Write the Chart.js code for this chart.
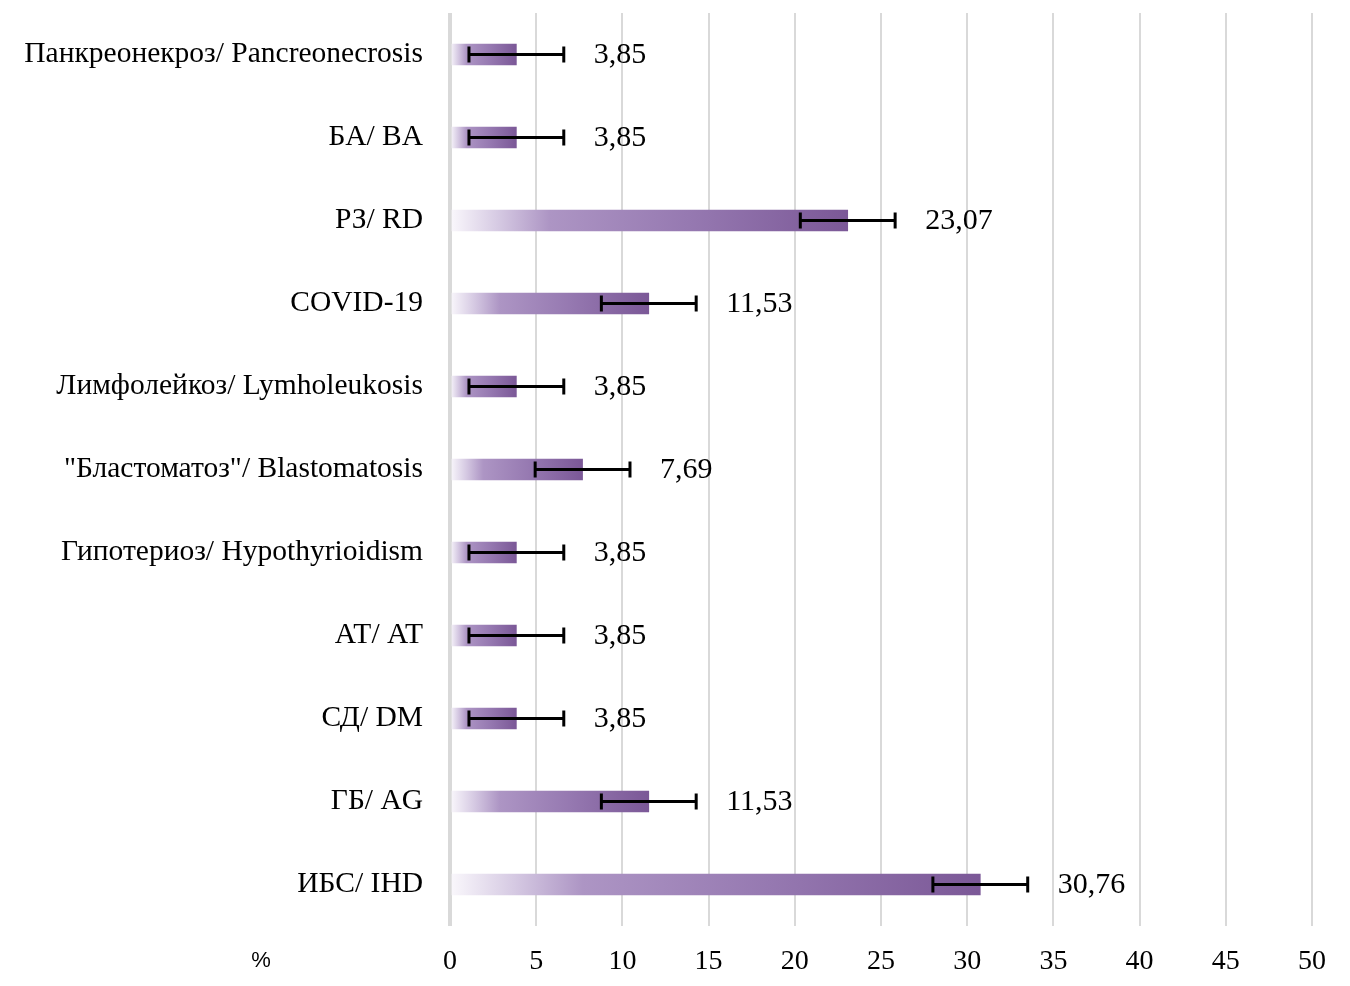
<!DOCTYPE html>
<html lang="ru">
<head>
    <meta charset="UTF-8">
    <title>Нозологии</title>
    <script src="https://cdn.jsdelivr.net/npm/chart.js"></script>
    <style>
        body {
            margin: 0;
            background: #fff;
        }
        #wrap {
            width: 1350px;
            height: 986px;
        }
    </style>
</head>
<body>
    <div id="wrap"><canvas id="nosChart"></canvas></div>

    <script>
        const categories = [
            'Панкреонекроз/ Pancreonecrosis',
            'БА/ BA',
            'РЗ/ RD',
            'COVID-19',
            'Лимфолейкоз/ Lymholeukosis',
            '"Бластоматоз"/ Blastomatosis',
            'Гипотериоз/ Hypothyrioidism',
            'АТ/ AT',
            'СД/ DM',
            'ГБ/ AG',
            'ИБС/ IHD'
        ];
        const values = [3.85, 3.85, 23.07, 11.53, 3.85, 7.69, 3.85, 3.85, 3.85, 11.53, 30.76];
        const errors = [2.75, 2.75, 2.75, 2.75, 2.75, 2.75, 2.75, 2.75, 2.75, 2.75, 2.75];
        const xTicks = [0, 5, 10, 15, 20, 25, 30, 35, 40, 45, 50];

        const serif = '"Liberation Serif", "Times New Roman", serif';

        function barGradient(context) {
            const chart = context.chart;
            const area = chart.chartArea;
            if (!area || context.parsed === undefined) return '#8a68a6';
            const xs = chart.scales.x;
            const x0 = xs.getPixelForValue(0);
            const x1 = xs.getPixelForValue(context.parsed.x);
            if (x1 - x0 < 1) return '#8a68a6';
            const g = chart.ctx.createLinearGradient(x0, 0, x1, 0);
            g.addColorStop(0, '#faf8fc');
            g.addColorStop(0.12, '#d6cae3');
            g.addColorStop(0.25, '#ad95c4');
            g.addColorStop(0.6, '#9679b1');
            g.addColorStop(1, '#7b5897');
            return g;
        }

        // error bars + value labels
        const extras = {
            id: 'extras',
            afterDatasetsDraw(chart) {
                const ctx = chart.ctx;
                const xs = chart.scales.x;
                const ys = chart.scales.y;
                ctx.save();
                values.forEach((v, i) => {
                    const y = ys.getPixelForValue(i);
                    const lo = xs.getPixelForValue(v - errors[i]);
                    const hi = xs.getPixelForValue(v + errors[i]);
                    ctx.strokeStyle = '#000';
                    ctx.lineWidth = 3;
                    ctx.beginPath();
                    ctx.moveTo(lo, y);
                    ctx.lineTo(hi, y);
                    ctx.moveTo(lo, y - 8);
                    ctx.lineTo(lo, y + 8);
                    ctx.moveTo(hi, y - 8);
                    ctx.lineTo(hi, y + 8);
                    ctx.stroke();

                    ctx.fillStyle = '#000';
                    ctx.font = '30px ' + serif;
                    ctx.textAlign = 'left';
                    ctx.textBaseline = 'middle';
                    ctx.fillText(v.toFixed(2).replace('.', ','), hi + 30, y + 1);
                });
                // unit label under the category column
                ctx.font = '22px "Liberation Sans", Arial, sans-serif';
                ctx.textAlign = 'center';
                ctx.fillText('%', 261, chart.chartArea.bottom + 35);
                ctx.restore();
            }
        };

        const ctx = document.getElementById('nosChart').getContext('2d');
        new Chart(ctx, {
            type: 'bar',
            data: {
                labels: categories,
                datasets: [{
                    label: '%',
                    data: values,
                    backgroundColor: barGradient,
                    borderWidth: 0,
                    barThickness: 21
                }]
            },
            options: {
                indexAxis: 'y',
                responsive: true,
                maintainAspectRatio: false,
                animation: false,
                layout: {
                    padding: { top: 13, right: 38, bottom: 0, left: 0 }
                },
                plugins: {
                    legend: { display: false },
                    tooltip: { enabled: false }
                },
                scales: {
                    x: {
                        min: 0,
                        max: 50,
                        afterBuildTicks(scale) {
                            scale.ticks = xTicks.map(v => ({ value: v }));
                        },
                        afterFit(scale) {
                            scale.height = 60;
                        },
                        border: { display: false },
                        grid: {
                            color: '#d9d9d9',
                            lineWidth: c => (c.tick && c.tick.value === 0 ? 4 : 2),
                            drawTicks: false
                        },
                        ticks: {
                            padding: 19,
                            color: '#000',
                            font: { family: serif, size: 28 }
                        }
                    },
                    y: {
                        afterFit(scale) {
                            scale.width = 450;
                            scale.paddingTop = 0;
                            scale.paddingBottom = 0;
                        },
                        border: { display: false },
                        grid: { display: false, drawTicks: false },
                        ticks: {
                            padding: 27,
                            color: '#000',
                            font: { family: serif, size: 29.5 }
                        }
                    }
                }
            },
            plugins: [extras]
        });
    </script>
</body>
</html>
